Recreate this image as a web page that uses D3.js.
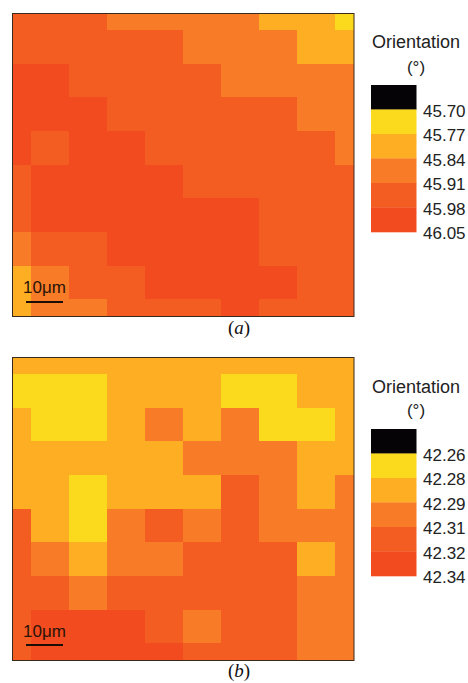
<!DOCTYPE html>
<html>
<head>
<meta charset="utf-8">
<script src="https://cdn.jsdelivr.net/npm/d3@7"></script>
<style>
    html, body { margin: 0; padding: 0; background: #fff; }
    svg { display: block; }
    text { font-family: "Liberation Sans", Arial, sans-serif; fill: #222; }
    .caption { font-family: "Liberation Serif", "Times New Roman", serif; font-size: 19px; fill: #111; }
</style>
</head>
<body>
<svg id="chart" width="468" height="683"></svg>
<script>
// Colour class of each cell, 1 = yellow ... 5 = red, rows top to bottom
const gridA = [
    [4, 4, 4, 3, 3, 3, 3, 2, 2, 1],
    [4, 4, 4, 4, 4, 3, 3, 3, 2, 2],
    [5, 5, 4, 4, 4, 4, 3, 3, 3, 3],
    [5, 5, 5, 4, 4, 4, 4, 4, 3, 3],
    [5, 4, 5, 5, 4, 4, 4, 4, 4, 3],
    [4, 5, 5, 5, 5, 4, 4, 4, 4, 4],
    [4, 5, 5, 5, 5, 5, 5, 4, 4, 4],
    [3, 4, 4, 5, 5, 5, 5, 4, 4, 4],
    [2, 3, 4, 4, 5, 5, 5, 5, 4, 4],
    [2, 3, 3, 4, 4, 4, 5, 4, 4, 4]
];
const gridB = [
    [2, 2, 2, 2, 2, 2, 2, 2, 2, 2],
    [1, 1, 1, 2, 2, 2, 1, 1, 2, 2],
    [2, 1, 1, 2, 3, 2, 3, 1, 1, 2],
    [2, 2, 2, 2, 2, 3, 3, 3, 2, 2],
    [2, 2, 1, 2, 2, 2, 4, 3, 2, 3],
    [4, 2, 1, 3, 4, 3, 4, 3, 3, 3],
    [4, 3, 2, 3, 3, 4, 4, 4, 2, 3],
    [4, 4, 3, 4, 4, 4, 4, 4, 3, 3],
    [4, 5, 5, 5, 4, 3, 4, 4, 3, 3],
    [4, 5, 5, 5, 5, 4, 4, 4, 3, 3]
];

const levels = [0, 1, 2, 3, 4, 5];
const labelsA = ["45.70", "45.77", "45.84", "45.91", "45.98", "46.05"];
const labelsB = ["42.26", "42.28", "42.29", "42.31", "42.32", "42.34"];
const levelColors = ["#050305", "#fbd91c", "#fdae22", "#f87b27", "#f45d22", "#f14b1f"];

let color = d3.scaleOrdinal().domain(levels).range(levelColors);
let svg = d3.select("#chart");

drawPanel({ grid: gridA, labels: labelsA, letter: "a", top: 13, bottom: 316, legendTop: 85, titleY: 48, unitY: 73, scaleBarY: 302, scaleTextY: 293, captionY: 334 });
drawPanel({ grid: gridB, labels: labelsB, letter: "b", top: 357, bottom: 660, legendTop: 429, titleY: 393, unitY: 416, scaleBarY: 645, scaleTextY: 637, captionY: 677 });

function drawPanel(p) {
    let g = svg.append("g");

    // cells sit on grid points, so the outer rows and columns are cut in half
    let x = d3.scaleLinear().domain([0, 9]).range([12.5, 354]);
    let y = d3.scaleLinear().domain([0, 9]).range([p.top, p.bottom]);
    let lo = v => Math.max(v - 0.5, 0);
    let hi = v => Math.min(v + 0.5, 9);

    let cells = p.grid.flatMap((row, r) => row.map((v, c) => ({ r: r, c: c, v: v })));
    g.selectAll("rect.cell").data(cells).enter().append("rect")
        .attr("class", "cell")
        .attr("x", d => Math.round(x(lo(d.c))))
        .attr("y", d => Math.round(y(lo(d.r))))
        .attr("width", d => Math.round(x(hi(d.c))) - Math.round(x(lo(d.c))))
        .attr("height", d => Math.round(y(hi(d.r))) - Math.round(y(lo(d.r))))
        .attr("fill", d => color(d.v))
        .attr("shape-rendering", "crispEdges");

    g.append("rect")
        .attr("x", x(0)).attr("y", y(0) + 0.5)
        .attr("width", x(9) - x(0)).attr("height", y(9) - y(0))
        .attr("fill", "none").attr("stroke", "#3a2a1c").attr("stroke-width", 1);

    // scale bar
    let barX = x(0) + 13.5;
    g.append("line")
        .attr("x1", barX).attr("x2", barX + 37)
        .attr("y1", p.scaleBarY).attr("y2", p.scaleBarY)
        .attr("stroke", "#1a0d05").attr("stroke-width", 2);
    g.append("text")
        .attr("x", barX - 3).attr("y", p.scaleTextY)
        .attr("font-size", 17)
        .style("fill", "#2a1408")
        .text("10μm");

    // caption
    let cap = g.append("text").attr("class", "caption")
        .attr("x", 239).attr("y", p.captionY).attr("text-anchor", "middle");
    cap.append("tspan").text("(");
    cap.append("tspan").attr("font-style", "italic").text(p.letter);
    cap.append("tspan").text(")");

    // legend
    let ly = d3.scaleBand().domain(levels).range([p.legendTop, p.legendTop + 147]);
    g.selectAll("rect.swatch").data(levels).enter().append("rect")
        .attr("class", "swatch")
        .attr("x", 371).attr("y", d => ly(d))
        .attr("width", 45.5).attr("height", ly.bandwidth() + 0.3)
        .attr("fill", d => color(d));
    let axis = d3.axisRight(d3.scalePoint().domain(p.labels).range([ly(1), ly(1) + 5 * ly.bandwidth()]))
        .tickSize(0).tickPadding(7);
    let ag = g.append("g").attr("transform", "translate(416,1.5)").call(axis);
    ag.select(".domain").remove();
    ag.selectAll("text")
        .attr("font-size", 17)
        .attr("font-family", "Liberation Sans");

    g.append("text").attr("x", 416).attr("y", p.titleY)
        .attr("text-anchor", "middle").attr("font-size", 18).text("Orientation");
    g.append("text").attr("x", 416).attr("y", p.unitY)
        .attr("text-anchor", "middle").attr("font-size", 17).text("(°)");
}
</script>
</body>
</html>
